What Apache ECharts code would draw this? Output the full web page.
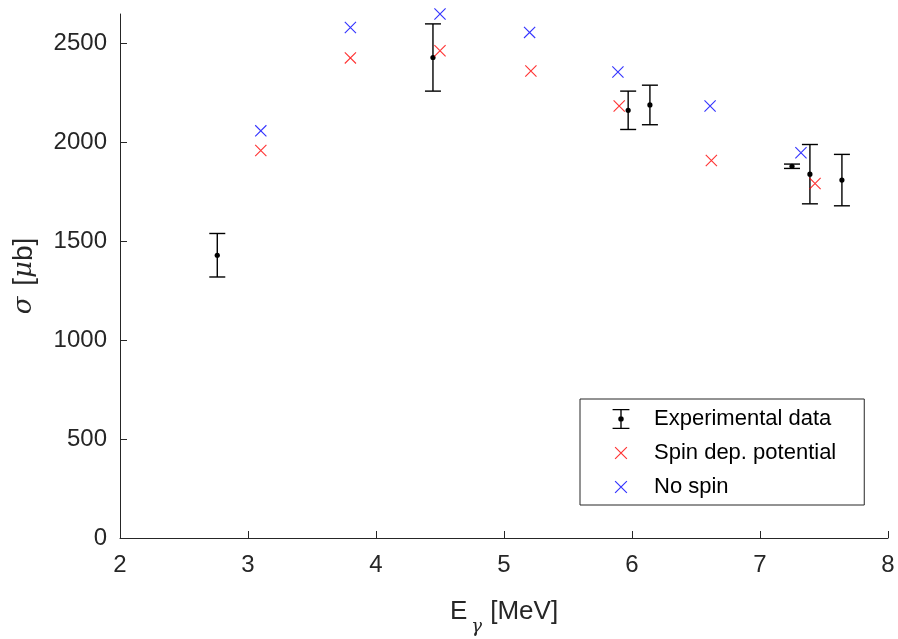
<!DOCTYPE html>
<html>
<head>
<meta charset="utf-8">
<script src="https://cdn.jsdelivr.net/npm/echarts@6/dist/echarts.min.js"></script>
<style>
  html, body { margin: 0; padding: 0; background: #fff; }
  #container01 { width: 898px; height: 639px; }
</style>
</head>
<body>
<div id="container01"></div>
<script>
// 实验数据 (E in MeV, sigma in microbarn)
const expX = [2.76, 4.445, 5.97, 6.14, 7.25, 7.39, 7.64];
const expY = [1430, 2430, 2163, 2190, 1880, 1840, 1810];
const expErr = [110, 170, 97, 100, 11, 150, 130];

// 自旋相关势
const spinX = [3.10, 3.80, 4.50, 5.21, 5.90, 6.62, 7.43];
const spinY = [1960, 2428, 2464, 2362, 2185, 1909, 1793];

// 无自旋
const noSpinX = [3.10, 3.80, 4.50, 5.20, 5.89, 6.61, 7.32];
const noSpinY = [2059, 2582, 2650, 2557, 2357, 2185, 1948];

const xTicks = [2, 3, 4, 5, 6, 7, 8];
const yTicks = [0, 500, 1000, 1500, 2000, 2500];

const axisColor = '#262626';
const font = '"Liberation Sans", Arial, Helvetica, sans-serif';
const serif = '"DejaVu Serif", "Liberation Serif", serif';

// X 形标记
const crossPath = 'path://M0,0.8 L0.8,0 L12,11.2 L11.2,12 Z M11.2,0 L12,0.8 L0.8,12 L0,11.2 Z';
// 图例中的 X 形 (外加空白边框保持尺寸)
const crossLegend = 'path://M-3.5,-3.5 L-3.49,-3.5 Z M15.5,15.5 L15.49,15.5 Z M0,0.8 L0.8,0 L12,11.2 L11.2,12 Z M11.2,0 L12,0.8 L0.8,12 L0,11.2 Z';
// 误差棒图例
const errLegend = 'path://M0,0 H16 V1.3 H0 Z M7.35,0 H8.65 V19 H7.35 Z M0,17.7 H16 V19 H0 Z M8,6.9 A2.6,2.6 0 1 1 7.99,6.9 Z';

const initChart = () => {
    const dom = document.getElementById('container01');
    const myChart = echarts.init(dom, null, { renderer: 'canvas' });

    const expData = expX.map((x, i) => [x, expY[i], expY[i] - expErr[i], expY[i] + expErr[i]]);
    const spinData = spinX.map((x, i) => [x, spinY[i]]);
    const noSpinData = noSpinX.map((x, i) => [x, noSpinY[i]]);

    const option = {
        animation: false,
        backgroundColor: '#fff',
        textStyle: { fontFamily: font },
        grid: { left: 120, right: 10, top: 14, bottom: 101, containLabel: false, outerBoundsMode: 'none' },
        legend: {
            orient: 'vertical',
            left: 580,
            top: 399,
            padding: [9, 28, 7, 31],
            itemWidth: 56,
            itemHeight: 20,
            itemGap: 12,
            borderColor: axisColor,
            borderWidth: 1,
            borderRadius: 0,
            backgroundColor: '#fff',
            selectedMode: false,
            textStyle: { fontSize: 22, color: '#000', fontFamily: font },
            data: [
                { name: 'Experimental data', icon: errLegend },
                { name: 'Spin dep. potential', icon: crossLegend },
                { name: 'No spin', icon: crossLegend }
            ]
        },
        xAxis: {
            type: 'value',
            min: 2,
            max: 8,
            interval: 1,
            name: '{a|E}{s|γ}{a| [MeV]}',
            nameLocation: 'middle',
            nameGap: 50,
            nameTextStyle: {
                rich: {
                    a: { fontSize: 26, color: axisColor, fontFamily: font },
                    s: { fontSize: 18, color: axisColor, fontFamily: serif, fontStyle: 'italic', padding: [30, 1, 0, 4] }
                }
            },
            axisLine: { lineStyle: { color: axisColor, width: 1 } },
            axisTick: { inside: true, length: 7, lineStyle: { color: axisColor }, customValues: xTicks },
            axisLabel: { color: axisColor, fontSize: 24, margin: 15, customValues: xTicks, formatter: v => String(v) },
            splitLine: { show: false }
        },
        yAxis: {
            type: 'value',
            min: 0,
            max: 2650,
            interval: 500,
            name: '{g|σ}{a| [}{i|μ}{a|b]}',
            nameLocation: 'middle',
            nameGap: 82,
            nameTextStyle: {
                rich: {
                    a: { fontSize: 28, color: axisColor, fontFamily: font },
                    g: { fontSize: 26, color: axisColor, fontFamily: serif, fontStyle: 'italic', padding: [0, 3, 0, 0] },
                    i: { fontSize: 26, color: axisColor, fontFamily: serif, fontStyle: 'italic' }
                }
            },
            axisLine: { show: true, lineStyle: { color: axisColor, width: 1 } },
            axisTick: { show: true, inside: true, length: 7, lineStyle: { color: axisColor }, customValues: yTicks },
            axisLabel: { color: axisColor, fontSize: 24, margin: 13, customValues: yTicks, formatter: v => String(v) },
            splitLine: { show: false }
        },
        series: [
            {
                name: 'Experimental data',
                type: 'custom',
                color: '#000',
                data: expData,
                encode: { x: 0, y: [1, 2, 3] },
                renderItem: (params, api) => {
                    const p = api.coord([api.value(0), api.value(1)]);
                    const lo = api.coord([api.value(0), api.value(2)]);
                    const hi = api.coord([api.value(0), api.value(3)]);
                    const hw = 8;
                    const st = { stroke: '#000', lineWidth: 1.4 };
                    return {
                        type: 'group',
                        children: [
                            { type: 'line', shape: { x1: p[0], y1: hi[1], x2: p[0], y2: lo[1] }, style: st },
                            { type: 'line', shape: { x1: p[0] - hw, y1: hi[1], x2: p[0] + hw, y2: hi[1] }, style: st },
                            { type: 'line', shape: { x1: p[0] - hw, y1: lo[1], x2: p[0] + hw, y2: lo[1] }, style: st },
                            { type: 'circle', shape: { cx: p[0], cy: p[1], r: 2.6 }, style: { fill: '#000' } }
                        ]
                    };
                },
                z: 3
            },
            {
                name: 'Spin dep. potential',
                type: 'scatter',
                color: '#ff0000',
                symbol: crossPath,
                symbolSize: 12,
                data: spinData,
                z: 4
            },
            {
                name: 'No spin',
                type: 'scatter',
                color: '#0000ff',
                symbol: crossPath,
                symbolSize: 12,
                data: noSpinData,
                z: 4
            }
        ]
    };

    myChart.setOption(option);
};

initChart();
</script>
</body>
</html>
